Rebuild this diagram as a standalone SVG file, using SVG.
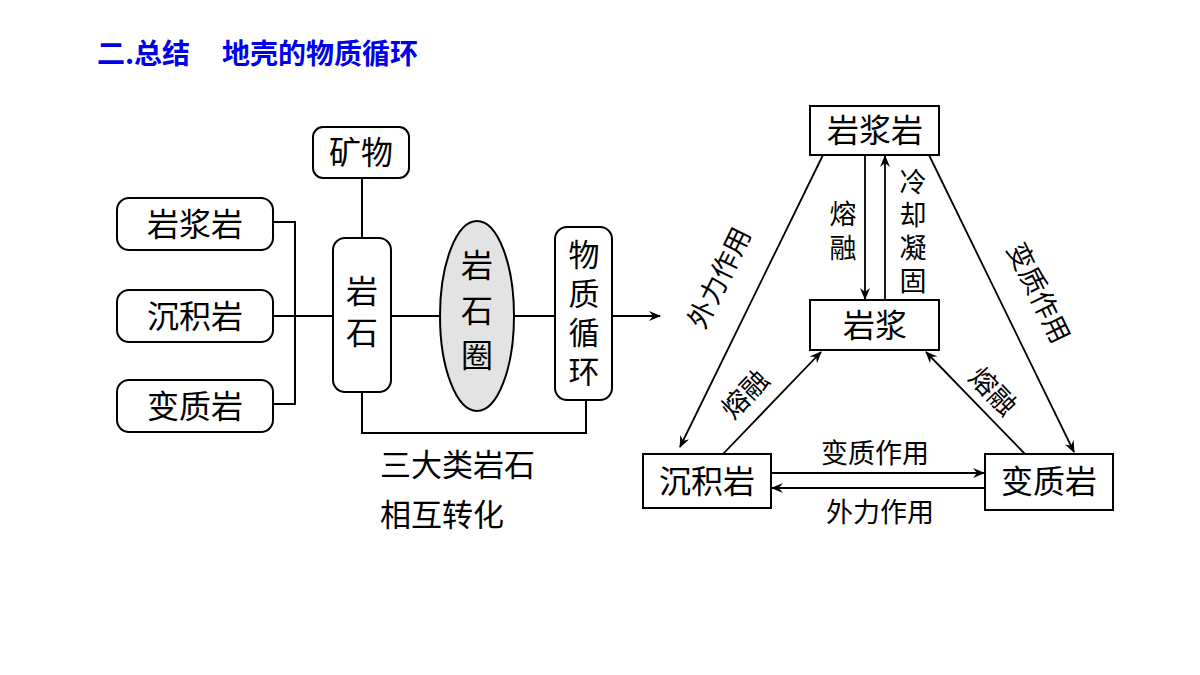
<svg xmlns="http://www.w3.org/2000/svg" width="1200" height="675" viewBox="0 0 1200 675">
<defs>
<marker id="ah" viewBox="0 0 12 10" refX="11" refY="5" markerWidth="12" markerHeight="10" markerUnits="userSpaceOnUse" orient="auto"><path d="M0,0 L12,5 L0,10 L4,5 Z" fill="#000"/></marker>
</defs>
<style>
.t{font-family:"Noto Sans CJK SC","Noto Sans",sans-serif;fill:#000;text-anchor:middle}
.b{font-size:32px}
.s{font-size:27px}
.box{fill:#fff;stroke:#000;stroke-width:2}
.ln{fill:none;stroke:#000;stroke-width:2}
.ar{fill:none;stroke:#000;stroke-width:1.8;marker-end:url(#ah)}
</style>
<rect width="1200" height="675" fill="#fff"/>
<text x="97" y="64" style="font-family:'Noto Sans CJK SC',sans-serif;font-weight:bold;font-size:28px;fill:#0000ee">二.总结<tspan x="222">地壳的物质循环</tspan></text>
<g id="connectors">
<path class="ln" d="M273,222 H295 V404 H273 M273,316 H333 M362,178 V238 M391,316 H440 M514,316 H555 M362,392 V433 H586 V400"/>
<path class="ar" d="M612,316 H660"/>
<path class="ar" d="M865,155 V299"/>
<path class="ar" d="M885,300 V156"/>
<path class="ar" d="M823,155 L680,447"/>
<path class="ar" d="M929,155 L1074,452"/>
<path class="ar" d="M723,454 L821,352"/>
<path class="ar" d="M1025,454 L926,352"/>
<path class="ar" d="M771,473 H984"/>
<path class="ar" d="M985,488 H772"/>
</g>
<g id="labels" class="t s">
<text x="843" y="224">熔</text><text x="843" y="258">融</text>
<text x="913" y="192">冷</text><text x="913" y="225">却</text><text x="913" y="258">凝</text><text x="913" y="291">固</text>
<text transform="translate(728,282) rotate(-64)">外力作用</text>
<text transform="translate(1030,297) rotate(64)">变质作用</text>
<text transform="translate(752,401) rotate(-46)">熔融</text>
<text transform="translate(986,398) rotate(46)">熔融</text>
<text x="875" y="463">变质作用</text>
<text x="880" y="522">外力作用</text>
<text x="380" y="476" style="font-size:31px;text-anchor:start">三大类岩石</text>
<text x="380" y="526" style="font-size:31px;text-anchor:start">相互转化</text>
</g>
<g id="kuangwu"><rect class="box" x="313" y="127" width="96" height="51" rx="10"/><text class="t b" x="361" y="164">矿物</text></g>
<g id="yanjiangyan-l"><rect class="box" x="117" y="198" width="156" height="52" rx="12"/><text class="t b" x="195" y="236">岩浆岩</text></g>
<g id="chenjiyan-l"><rect class="box" x="117" y="290" width="156" height="52" rx="12"/><text class="t b" x="195" y="328">沉积岩</text></g>
<g id="bianzhiyan-l"><rect class="box" x="117" y="380" width="156" height="52" rx="12"/><text class="t b" x="195" y="418">变质岩</text></g>
<g id="yanshi"><rect class="box" x="333" y="238" width="58" height="154" rx="12"/><text class="t b" x="362" y="303">岩</text><text class="t b" x="362" y="344">石</text></g>
<g id="yanshiquan"><ellipse cx="477" cy="316" rx="37" ry="95" fill="#e3e3e3" stroke="#000" stroke-width="2"/><text class="t b" x="477" y="277">岩</text><text class="t b" x="477" y="322">石</text><text class="t b" x="477" y="367">圈</text></g>
<g id="wuzhixunhuan"><rect class="box" x="555" y="227" width="57" height="173" rx="12"/><text class="t" style="font-size:31px" x="584" y="266">物</text><text class="t" style="font-size:31px" x="584" y="305">质</text><text class="t" style="font-size:31px" x="584" y="344">循</text><text class="t" style="font-size:31px" x="584" y="383">环</text></g>
<g id="yanjiangyan"><rect class="box" x="810" y="106" width="129" height="49"/><text class="t b" x="875" y="142">岩浆岩</text></g>
<g id="yanjiang"><rect class="box" x="810" y="300" width="129" height="50"/><text class="t b" x="875" y="337">岩浆</text></g>
<g id="chenjiyan"><rect class="box" x="643" y="454" width="128" height="54"/><text class="t b" x="707" y="493">沉积岩</text></g>
<g id="bianzhiyan"><rect class="box" x="985" y="454" width="128" height="56"/><text class="t b" x="1049" y="493">变质岩</text></g>
</svg>
